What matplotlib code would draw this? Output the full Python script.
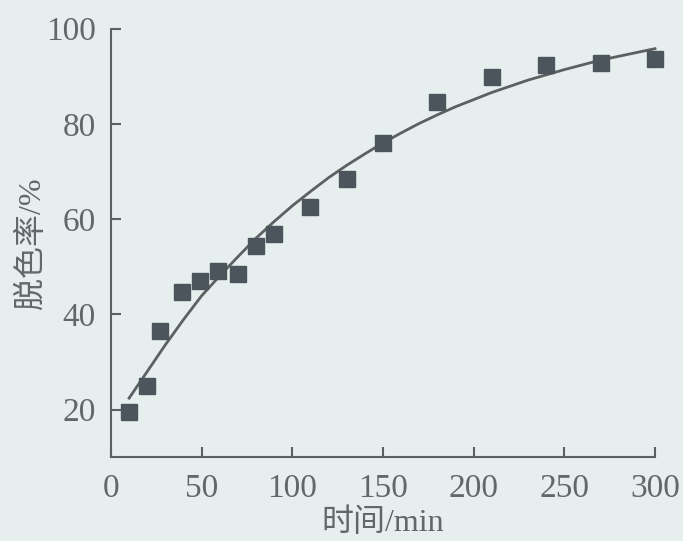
import matplotlib
matplotlib.use("Agg")
import matplotlib.pyplot as plt

# measured points (time in min, decolorization %)
time_min = [10, 20, 27, 39, 49, 59, 70, 80, 90, 110, 130, 150, 180, 210, 240, 270, 300]
decolor_pct = [19.5, 24.9, 36.4, 44.7, 47.0, 49.0, 48.5, 54.4, 56.8, 62.5, 68.5,
               75.9, 84.6, 89.8, 92.4, 92.8, 93.7]

# fitted curve, every 10 min
curve_x = [10, 20, 30, 40, 50, 60, 70, 80, 90, 100, 110, 120, 130, 140, 150,
           160, 170, 180, 190, 200, 210, 220, 230, 240, 250, 260, 270, 280, 290, 300]
curve_y = [22.4, 28.0, 33.6, 38.9, 43.9, 48.1, 52.1, 56.0, 59.5, 62.8, 65.8, 68.7,
           71.3, 73.7, 76.0, 78.1, 80.1, 81.9, 83.6, 85.1, 86.6, 87.9, 89.2, 90.3,
           91.4, 92.4, 93.4, 94.2, 95.0, 95.8]

x_ticks = [0, 50, 100, 150, 200, 250, 300]
y_ticks = [20, 40, 60, 80, 100]

bg = "#e7eeee"
ink = "#5c6062"
text_col = "#62676a"
fonts = ["Liberation Serif", "Noto Sans CJK SC"]

fig = plt.figure(figsize=(6.83, 5.41), dpi=100, facecolor=bg)
ax = fig.add_axes([0.1625, 0.155, 0.7965, 0.792])
ax.set_facecolor(bg)

ax.plot(curve_x, curve_y, color=ink, lw=2.0, clip_on=False, zorder=2)
ax.plot(time_min, decolor_pct, ls="none", marker="s", markersize=11,
        color="#4b555b", clip_on=False, zorder=3)

ax.set_xlim(0, 300)
ax.set_ylim(10, 100)
ax.set_xticks(x_ticks)
ax.set_yticks(y_ticks)

for side in ["top", "right"]:
    ax.spines[side].set_visible(False)
for side in ["left", "bottom"]:
    ax.spines[side].set_color(ink)
    ax.spines[side].set_linewidth(1.5)

ax.tick_params(direction="in", length=7, width=1.5, color=ink,
               labelsize=24, labelcolor=text_col)
ax.tick_params(axis="x", pad=12)
ax.tick_params(axis="y", pad=11)
for lbl in ax.get_xticklabels() + ax.get_yticklabels():
    lbl.set_family(fonts)

ax.set_xlabel("时间/min", fontsize=23, color=text_col, family=fonts, labelpad=3)
ax.set_ylabel("脱色率/%", fontsize=23, color=text_col, family=fonts, labelpad=-1)

fig.savefig("out.png", dpi=100, facecolor=bg)
